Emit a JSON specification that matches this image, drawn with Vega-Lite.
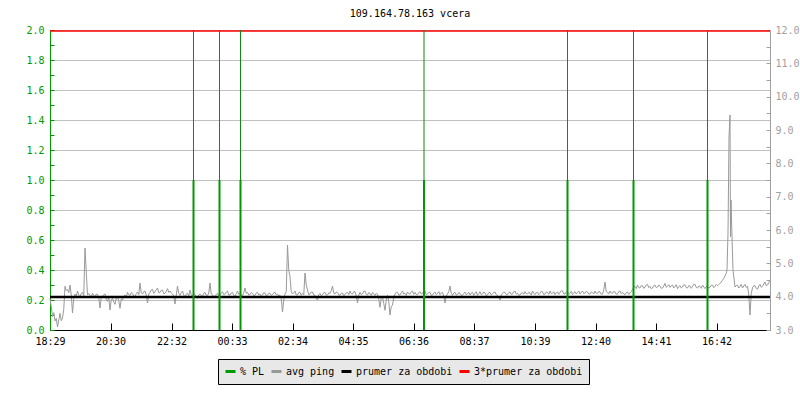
{
  "$schema": "https://vega.github.io/schema/vega-lite/v6.json",
  "width": 720,
  "height": 300,
  "autosize": {"type": "none"},
  "padding": {"left": 50, "top": 30, "right": 30, "bottom": 70},
  "background": "white",
  "title": {"text": "109.164.78.163 vcera", "font": "DejaVu Sans Mono", "fontSize": 10, "fontWeight": "normal", "color": "#000000", "anchor": "middle", "offset": 6},
  "config": {
    "view": {"stroke": null},
    "axis": {"labelFont": "DejaVu Sans Mono", "labelFontSize": 10, "labelOverlap": false, "labelFlush": false}
  },
  "datasets": {
    "ping": [
      {"t":0,"ping":3.95},{"t":2.5,"ping":3.70},{"t":5,"ping":3.41},{"t":7.5,"ping":3.52},{"t":10,"ping":3.27},{"t":12.5,"ping":3.35},{"t":15,"ping":3.09},{"t":17.5,"ping":3.30},{"t":20,"ping":3.50},{"t":22.5,"ping":3.28},
      {"t":25,"ping":3.36},{"t":27.5,"ping":3.62},{"t":30,"ping":4.31},{"t":32.5,"ping":4.18},{"t":35,"ping":4.22},{"t":37.5,"ping":4.12},{"t":40,"ping":4.35},{"t":42.5,"ping":4.05},{"t":45,"ping":3.51},{"t":47.5,"ping":3.95},
      {"t":50,"ping":4.08},{"t":52.5,"ping":4.02},{"t":55,"ping":4.17},{"t":57.5,"ping":4.05},{"t":60,"ping":3.99},{"t":62.5,"ping":4.10},{"t":65,"ping":4.13},{"t":67.5,"ping":4.03},{"t":70,"ping":5.46},{"t":72.5,"ping":4.74},
      {"t":75,"ping":4.05},{"t":77.5,"ping":4.10},{"t":80,"ping":4.04},{"t":82.5,"ping":3.98},{"t":85,"ping":4.10},{"t":87.5,"ping":4.04},{"t":90,"ping":3.97},{"t":92.5,"ping":4.08},{"t":95,"ping":4.06},{"t":97.5,"ping":3.95},
      {"t":100,"ping":3.66},{"t":102.5,"ping":3.98},{"t":105,"ping":4.01},{"t":107.5,"ping":4.06},{"t":110,"ping":4.08},{"t":112.5,"ping":3.92},{"t":115,"ping":3.86},{"t":117.5,"ping":3.99},{"t":120,"ping":3.60},{"t":122.5,"ping":3.90},
      {"t":125,"ping":3.95},{"t":127.5,"ping":3.84},{"t":130,"ping":3.77},{"t":132.5,"ping":3.96},{"t":135,"ping":3.99},{"t":137.5,"ping":3.88},{"t":140,"ping":3.65},{"t":142.5,"ping":3.93},{"t":145,"ping":3.90},{"t":147.5,"ping":4.02},
      {"t":150,"ping":4.05},{"t":152.5,"ping":3.98},{"t":155,"ping":4.13},{"t":157.5,"ping":4.06},{"t":160,"ping":4.04},{"t":162.5,"ping":4.12},{"t":165,"ping":4.10},{"t":167.5,"ping":4.01},{"t":170,"ping":4.01},{"t":172.5,"ping":4.09},
      {"t":175,"ping":4.14},{"t":177.5,"ping":4.06},{"t":180,"ping":4.41},{"t":182.5,"ping":4.12},{"t":185,"ping":4.08},{"t":187.5,"ping":4.15},{"t":190,"ping":4.17},{"t":192.5,"ping":4.05},{"t":195,"ping":3.81},{"t":197.5,"ping":4.08},
      {"t":200,"ping":4.13},{"t":202.5,"ping":4.20},{"t":205,"ping":4.22},{"t":207.5,"ping":4.10},{"t":210,"ping":4.15},{"t":212.5,"ping":4.21},{"t":215,"ping":4.26},{"t":217.5,"ping":4.12},{"t":220,"ping":4.13},{"t":222.5,"ping":4.19},
      {"t":225,"ping":4.20},{"t":227.5,"ping":4.09},{"t":230,"ping":4.10},{"t":232.5,"ping":4.16},{"t":235,"ping":4.24},{"t":237.5,"ping":4.13},{"t":240,"ping":4.17},{"t":242.5,"ping":4.11},{"t":245,"ping":4.08},{"t":247.5,"ping":4.02},
      {"t":250,"ping":3.78},{"t":252.5,"ping":4.05},{"t":255,"ping":4.32},{"t":257.5,"ping":4.10},{"t":260,"ping":4.04},{"t":262.5,"ping":4.12},{"t":265,"ping":4.17},{"t":267.5,"ping":4.05},{"t":270,"ping":3.97},{"t":272.5,"ping":4.08},
      {"t":275,"ping":4.10},{"t":277.5,"ping":4.02},{"t":280,"ping":4.20},{"t":282.5,"ping":4.06},{"t":285,"ping":4.01},{"t":287.5,"ping":4.09},{"t":290,"ping":4.06},{"t":292.5,"ping":4.00},{"t":295,"ping":3.95},{"t":297.5,"ping":4.05},
      {"t":300,"ping":4.08},{"t":302.5,"ping":4.03},{"t":305,"ping":4.01},{"t":307.5,"ping":4.10},{"t":310,"ping":4.13},{"t":312.5,"ping":4.04},{"t":315,"ping":4.04},{"t":317.5,"ping":4.11},{"t":320,"ping":4.41},{"t":322.5,"ping":4.08},
      {"t":325,"ping":4.06},{"t":327.5,"ping":4.00},{"t":330,"ping":3.99},{"t":332.5,"ping":4.07},{"t":335,"ping":4.10},{"t":337.5,"ping":4.02},{"t":340,"ping":4.04},{"t":342.5,"ping":4.12},{"t":345,"ping":4.15},{"t":347.5,"ping":4.06},
      {"t":350,"ping":4.08},{"t":352.5,"ping":4.14},{"t":355,"ping":4.17},{"t":357.5,"ping":4.05},{"t":360,"ping":4.05},{"t":362.5,"ping":4.11},{"t":365,"ping":4.13},{"t":367.5,"ping":4.04},{"t":370,"ping":4.01},{"t":372.5,"ping":4.09},
      {"t":375,"ping":4.17},{"t":377.5,"ping":4.07},{"t":380,"ping":4.10},{"t":382.5,"ping":4.03},{"t":385,"ping":4.04},{"t":387.5,"ping":4.12},{"t":390,"ping":4.26},{"t":392.5,"ping":4.10},{"t":395,"ping":4.13},{"t":397.5,"ping":4.05},
      {"t":400,"ping":4.06},{"t":402.5,"ping":4.12},{"t":405,"ping":4.10},{"t":407.5,"ping":4.03},{"t":410,"ping":4.04},{"t":412.5,"ping":4.11},{"t":415,"ping":4.13},{"t":417.5,"ping":4.05},{"t":420,"ping":4.08},{"t":422.5,"ping":4.02},
      {"t":425,"ping":4.05},{"t":427.5,"ping":4.12},{"t":430,"ping":4.11},{"t":432.5,"ping":4.03},{"t":435,"ping":4.04},{"t":437.5,"ping":4.10},{"t":440,"ping":4.10},{"t":442.5,"ping":4.04},{"t":445,"ping":4.06},{"t":447.5,"ping":4.12},
      {"t":450,"ping":4.13},{"t":452.5,"ping":4.05},{"t":455,"ping":4.08},{"t":457.5,"ping":4.02},{"t":460,"ping":4.04},{"t":462.5,"ping":3.95},{"t":465,"ping":3.54},{"t":467.5,"ping":3.90},{"t":470,"ping":4.08},{"t":472.5,"ping":4.15},
      {"t":475,"ping":5.55},{"t":477.5,"ping":4.80},{"t":480,"ping":4.60},{"t":482.5,"ping":4.15},{"t":485,"ping":4.08},{"t":487.5,"ping":4.12},{"t":490,"ping":4.17},{"t":492.5,"ping":4.05},{"t":495,"ping":4.05},{"t":497.5,"ping":4.12},
      {"t":500,"ping":4.13},{"t":502.5,"ping":4.04},{"t":505,"ping":4.10},{"t":507.5,"ping":4.06},{"t":510,"ping":4.71},{"t":512.5,"ping":4.35},{"t":515,"ping":4.20},{"t":517.5,"ping":4.06},{"t":520,"ping":4.08},{"t":522.5,"ping":4.14},
      {"t":525,"ping":4.14},{"t":527.5,"ping":4.05},{"t":530,"ping":4.04},{"t":532.5,"ping":3.95},{"t":535,"ping":3.90},{"t":537.5,"ping":4.06},{"t":540,"ping":4.10},{"t":542.5,"ping":4.03},{"t":545,"ping":4.06},{"t":547.5,"ping":4.12},
      {"t":550,"ping":4.13},{"t":552.5,"ping":4.05},{"t":555,"ping":4.05},{"t":557.5,"ping":4.11},{"t":560,"ping":4.10},{"t":562.5,"ping":4.18},{"t":565,"ping":4.32},{"t":567.5,"ping":4.10},{"t":570,"ping":4.08},{"t":572.5,"ping":4.14},
      {"t":575,"ping":4.13},{"t":577.5,"ping":4.05},{"t":580,"ping":4.04},{"t":582.5,"ping":4.10},{"t":585,"ping":4.11},{"t":587.5,"ping":4.03},{"t":590,"ping":4.06},{"t":592.5,"ping":4.12},{"t":595,"ping":4.13},{"t":597.5,"ping":4.06},
      {"t":600,"ping":4.17},{"t":602.5,"ping":4.09},{"t":605,"ping":4.08},{"t":607.5,"ping":4.15},{"t":610,"ping":4.15},{"t":612.5,"ping":4.02},{"t":615,"ping":3.81},{"t":617.5,"ping":4.05},{"t":620,"ping":4.13},{"t":622.5,"ping":4.06},
      {"t":625,"ping":4.08},{"t":627.5,"ping":4.16},{"t":630,"ping":4.17},{"t":632.5,"ping":4.07},{"t":635,"ping":4.05},{"t":637.5,"ping":4.12},{"t":640,"ping":4.10},{"t":642.5,"ping":4.04},{"t":645,"ping":4.13},{"t":647.5,"ping":4.08},
      {"t":650,"ping":4.04},{"t":652.5,"ping":4.10},{"t":655,"ping":4.08},{"t":657.5,"ping":3.92},{"t":660,"ping":3.68},{"t":662.5,"ping":3.95},{"t":665,"ping":3.99},{"t":667.5,"ping":3.80},{"t":670,"ping":3.59},{"t":672.5,"ping":3.90},
      {"t":675,"ping":4.04},{"t":677.5,"ping":3.85},{"t":680,"ping":3.45},{"t":682.5,"ping":3.70},{"t":685,"ping":3.75},{"t":687.5,"ping":3.98},{"t":690,"ping":4.08},{"t":692.5,"ping":4.13},{"t":695,"ping":4.13},{"t":697.5,"ping":4.05},
      {"t":700,"ping":4.05},{"t":702.5,"ping":4.12},{"t":705,"ping":4.17},{"t":707.5,"ping":4.08},{"t":710,"ping":4.10},{"t":712.5,"ping":4.04},{"t":715,"ping":4.14},{"t":717.5,"ping":4.09},{"t":720,"ping":4.08},{"t":722.5,"ping":4.15},
      {"t":725,"ping":4.17},{"t":727.5,"ping":4.07},{"t":730,"ping":4.13},{"t":732.5,"ping":4.06},{"t":735,"ping":4.06},{"t":737.5,"ping":4.12},{"t":740,"ping":4.15},{"t":742.5,"ping":4.08},{"t":745,"ping":4.10},{"t":747.5,"ping":4.16},
      {"t":750,"ping":4.17},{"t":752.5,"ping":4.06},{"t":755,"ping":4.08},{"t":757.5,"ping":4.13},{"t":760,"ping":4.13},{"t":762.5,"ping":4.04},{"t":765,"ping":4.05},{"t":767.5,"ping":4.11},{"t":770,"ping":4.14},{"t":772.5,"ping":4.06},
      {"t":775,"ping":4.10},{"t":777.5,"ping":4.15},{"t":780,"ping":4.06},{"t":782.5,"ping":4.11},{"t":785,"ping":4.13},{"t":787.5,"ping":4.02},{"t":790,"ping":3.81},{"t":792.5,"ping":4.02},{"t":795,"ping":4.08},{"t":797.5,"ping":4.15},
      {"t":800,"ping":4.32},{"t":802.5,"ping":4.10},{"t":805,"ping":4.04},{"t":807.5,"ping":4.11},{"t":810,"ping":4.13},{"t":812.5,"ping":4.05},{"t":815,"ping":4.06},{"t":817.5,"ping":4.12},{"t":820,"ping":4.10},{"t":822.5,"ping":4.03},
      {"t":825,"ping":4.04},{"t":827.5,"ping":4.10},{"t":830,"ping":4.14},{"t":832.5,"ping":4.06},{"t":835,"ping":4.08},{"t":837.5,"ping":4.13},{"t":840,"ping":4.05},{"t":842.5,"ping":4.11},{"t":845,"ping":4.13},{"t":847.5,"ping":4.04},
      {"t":850,"ping":4.10},{"t":852.5,"ping":4.15},{"t":855,"ping":4.04},{"t":857.5,"ping":4.09},{"t":860,"ping":4.15},{"t":862.5,"ping":4.06},{"t":865,"ping":4.08},{"t":867.5,"ping":4.14},{"t":870,"ping":4.11},{"t":872.5,"ping":4.03},
      {"t":875,"ping":4.05},{"t":877.5,"ping":4.12},{"t":880,"ping":4.13},{"t":882.5,"ping":4.05},{"t":885,"ping":4.08},{"t":887.5,"ping":4.13},{"t":890,"ping":4.14},{"t":892.5,"ping":4.06},{"t":895,"ping":4.04},{"t":897.5,"ping":3.98},
      {"t":900,"ping":3.90},{"t":902.5,"ping":4.05},{"t":905,"ping":4.10},{"t":907.5,"ping":4.14},{"t":910,"ping":4.13},{"t":912.5,"ping":4.06},{"t":915,"ping":4.06},{"t":917.5,"ping":4.12},{"t":920,"ping":4.14},{"t":922.5,"ping":4.07},
      {"t":925,"ping":4.08},{"t":927.5,"ping":4.15},{"t":930,"ping":4.17},{"t":932.5,"ping":4.08},{"t":935,"ping":4.10},{"t":937.5,"ping":4.04},{"t":940,"ping":4.05},{"t":942.5,"ping":4.11},{"t":945,"ping":4.13},{"t":947.5,"ping":4.07},
      {"t":950,"ping":4.15},{"t":952.5,"ping":4.09},{"t":955,"ping":4.08},{"t":957.5,"ping":4.13},{"t":960,"ping":4.11},{"t":962.5,"ping":4.05},{"t":965,"ping":4.17},{"t":967.5,"ping":4.10},{"t":970,"ping":4.06},{"t":972.5,"ping":4.12},
      {"t":975,"ping":4.13},{"t":977.5,"ping":4.06},{"t":980,"ping":4.10},{"t":982.5,"ping":4.16},{"t":985,"ping":4.15},{"t":987.5,"ping":4.06},{"t":990,"ping":4.08},{"t":992.5,"ping":4.14},{"t":995,"ping":4.13},{"t":997.5,"ping":4.07},
      {"t":1000,"ping":4.17},{"t":1002.5,"ping":4.09},{"t":1005,"ping":4.10},{"t":1007.5,"ping":4.15},{"t":1010,"ping":4.06},{"t":1012.5,"ping":4.12},{"t":1015,"ping":4.14},{"t":1017.5,"ping":4.07},{"t":1020,"ping":4.13},{"t":1022.5,"ping":4.18},
      {"t":1025,"ping":4.17},{"t":1027.5,"ping":4.08},{"t":1030,"ping":4.08},{"t":1032.5,"ping":4.14},{"t":1035,"ping":4.14},{"t":1037.5,"ping":4.07},{"t":1040,"ping":4.10},{"t":1042.5,"ping":4.16},{"t":1045,"ping":4.06},{"t":1047.5,"ping":4.12},
      {"t":1050,"ping":4.15},{"t":1052.5,"ping":4.08},{"t":1055,"ping":4.13},{"t":1057.5,"ping":4.17},{"t":1060,"ping":4.08},{"t":1062.5,"ping":4.13},{"t":1065,"ping":4.17},{"t":1067.5,"ping":4.09},{"t":1070,"ping":4.11},{"t":1072.5,"ping":4.16},
      {"t":1075,"ping":4.14},{"t":1077.5,"ping":4.08},{"t":1080,"ping":4.08},{"t":1082.5,"ping":4.14},{"t":1085,"ping":4.13},{"t":1087.5,"ping":4.08},{"t":1090,"ping":4.17},{"t":1092.5,"ping":4.10},{"t":1095,"ping":4.10},{"t":1097.5,"ping":4.16},
      {"t":1100,"ping":4.14},{"t":1102.5,"ping":4.07},{"t":1105,"ping":4.08},{"t":1107.5,"ping":4.20},{"t":1110,"ping":4.44},{"t":1112.5,"ping":4.15},{"t":1115,"ping":4.13},{"t":1117.5,"ping":4.08},{"t":1120,"ping":4.17},{"t":1122.5,"ping":4.11},
      {"t":1125,"ping":4.10},{"t":1127.5,"ping":4.16},{"t":1130,"ping":4.14},{"t":1132.5,"ping":4.07},{"t":1135,"ping":4.08},{"t":1137.5,"ping":4.15},{"t":1140,"ping":4.17},{"t":1142.5,"ping":4.09},{"t":1145,"ping":4.13},{"t":1147.5,"ping":4.08},
      {"t":1150,"ping":4.06},{"t":1152.5,"ping":4.12},{"t":1155,"ping":4.14},{"t":1157.5,"ping":4.07},{"t":1160,"ping":4.10},{"t":1162.5,"ping":4.15},{"t":1165,"ping":4.22},{"t":1167.5,"ping":4.28},{"t":1170,"ping":4.31},{"t":1172.5,"ping":4.24},
      {"t":1175,"ping":4.35},{"t":1177.5,"ping":4.27},{"t":1180,"ping":4.26},{"t":1182.5,"ping":4.33},{"t":1185,"ping":4.33},{"t":1187.5,"ping":4.25},{"t":1190,"ping":4.29},{"t":1192.5,"ping":4.35},{"t":1195,"ping":4.37},{"t":1197.5,"ping":4.27},
      {"t":1200,"ping":4.31},{"t":1202.5,"ping":4.24},{"t":1205,"ping":4.26},{"t":1207.5,"ping":4.33},{"t":1210,"ping":4.35},{"t":1212.5,"ping":4.27},{"t":1215,"ping":4.29},{"t":1217.5,"ping":4.35},{"t":1220,"ping":4.32},{"t":1222.5,"ping":4.25},
      {"t":1225,"ping":4.26},{"t":1227.5,"ping":4.32},{"t":1230,"ping":4.40},{"t":1232.5,"ping":4.28},{"t":1235,"ping":4.31},{"t":1237.5,"ping":4.36},{"t":1240,"ping":4.28},{"t":1242.5,"ping":4.33},{"t":1245,"ping":4.35},{"t":1247.5,"ping":4.26},
      {"t":1250,"ping":4.31},{"t":1252.5,"ping":4.36},{"t":1255,"ping":4.24},{"t":1257.5,"ping":4.30},{"t":1260,"ping":4.33},{"t":1262.5,"ping":4.26},{"t":1265,"ping":4.29},{"t":1267.5,"ping":4.36},{"t":1270,"ping":4.35},{"t":1272.5,"ping":4.27},
      {"t":1275,"ping":4.26},{"t":1277.5,"ping":4.33},{"t":1280,"ping":4.32},{"t":1282.5,"ping":4.25},{"t":1285,"ping":4.31},{"t":1287.5,"ping":4.37},{"t":1290,"ping":4.37},{"t":1292.5,"ping":4.28},{"t":1295,"ping":4.26},{"t":1297.5,"ping":4.32},
      {"t":1300,"ping":4.31},{"t":1302.5,"ping":4.25},{"t":1305,"ping":4.35},{"t":1307.5,"ping":4.29},{"t":1310,"ping":4.24},{"t":1312.5,"ping":4.31},{"t":1315,"ping":4.31},{"t":1317.5,"ping":4.26},{"t":1320,"ping":4.28},{"t":1322.5,"ping":4.34},
      {"t":1325,"ping":4.35},{"t":1327.5,"ping":4.27},{"t":1330,"ping":4.31},{"t":1332.5,"ping":4.37},{"t":1335,"ping":4.33},{"t":1337.5,"ping":4.36},{"t":1340,"ping":4.40},{"t":1342.5,"ping":4.44},{"t":1345,"ping":4.49},{"t":1347.5,"ping":4.55},
      {"t":1350,"ping":4.62},{"t":1352.5,"ping":4.70},{"t":1354,"ping":4.80},{"t":1356,"ping":5.91},{"t":1358,"ping":8.79},{"t":1360,"ping":9.45},{"t":1361,"ping":5.80},{"t":1362,"ping":6.90},{"t":1364,"ping":5.79},{"t":1366,"ping":4.80},
      {"t":1368,"ping":4.55},{"t":1370,"ping":4.29},{"t":1372.5,"ping":4.33},{"t":1375,"ping":4.35},{"t":1377.5,"ping":4.26},{"t":1380,"ping":4.31},{"t":1382.5,"ping":4.37},{"t":1385,"ping":4.26},{"t":1387.5,"ping":4.32},{"t":1390,"ping":4.37},
      {"t":1392.5,"ping":4.28},{"t":1395,"ping":4.31},{"t":1397.5,"ping":4.05},{"t":1400,"ping":3.45},{"t":1402.5,"ping":4.10},{"t":1405,"ping":4.26},{"t":1407.5,"ping":4.33},{"t":1410,"ping":4.33},{"t":1412.5,"ping":4.25},{"t":1415,"ping":4.22},
      {"t":1417.5,"ping":4.32},{"t":1420,"ping":4.37},{"t":1422.5,"ping":4.28},{"t":1425,"ping":4.31},{"t":1427.5,"ping":4.38},{"t":1430,"ping":4.44},{"t":1432.5,"ping":4.33},{"t":1435,"ping":4.35},{"t":1437.5,"ping":4.42},{"t":1440,"ping":4.50}
    ],
    "pl": [
      {"t":287,"pl":1.0},{"t":339,"pl":1.0},{"t":381,"pl":1.0},{"t":748,"pl":1.0},{"t":1035,"pl":1.0},{"t":1167,"pl":1.0},{"t":1315,"pl":1.0}
    ],
    "means": [
      {"series":"prumer za obdobi","value":3.99},
      {"series":"3*prumer za obdobi","value":11.97}
    ]
  },
  "resolve": {"scale": {"y": "independent"}},
  "layer": [
    {
      "layer": [
        {
          "data": {"name": "ping"},
          "mark": {"type": "line", "interpolate": "linear", "strokeWidth": 1},
          "encoding": {
            "x": {"field": "t", "type": "quantitative", "scale": {"domain": [0, 1440], "nice": false, "zero": false},
              "axis": {"values": [0,121,243,364,485,606,727,848,970,1091,1212,1333], "labelExpr": "format(floor(((datum.value+1109)%1440)/60),'02d') + ':' + format((datum.value+1109)%60,'02d')", "title": null, "grid": false, "domainColor": "#000000", "tickColor": "#000000", "tickSize": -7, "labelColor": "#000000", "labelPadding": 13, "labelFlush": false, "labelOverlap": false}},
            "y": {"field": "ping", "type": "quantitative", "scale": {"domain": [3, 12], "nice": false, "zero": false, "clamp": true},
              "axis": {"orient": "right", "values": [3,3.5,4,4.5,5,5.5,6,6.5,7,7.5,8,8.5,9,9.5,10,10.5,11,11.5,12], "labelExpr": "datum.value % 1 == 0 ? format(datum.value, '.1f') : ''", "title": null, "grid": false, "domainColor": "#a0a0a0", "tickColor": "#a0a0a0", "tickSize": -4, "labelColor": "#a0a0a0", "labelPadding": 9, "labelFlush": false, "labelOverlap": false}},
            "color": {"datum": "avg ping", "type": "nominal", "title": null,
              "scale": {"domain": ["% PL", "avg ping", "prumer za obdobi", "3*prumer za obdobi"], "range": ["#009900", "#999999", "#000000", "#ff0000"]},
              "legend": {"orient": "none", "legendX": 168, "legendY": 329, "direction": "horizontal", "gridAlign": "none", "title": null, "fillColor": "#e8e8e8", "strokeColor": "#000000", "padding": 6, "symbolType": "stroke", "symbolSize": 100, "symbolStrokeWidth": 3, "labelFont": "DejaVu Sans Mono", "labelFontSize": 10, "labelColor": "#000000", "labelOffset": 3, "columnPadding": 0, "labelLimit": 300}}
          }
        },
        {
          "data": {"name": "means"},
          "mark": {"type": "rule"},
          "encoding": {
            "y": {"field": "value", "type": "quantitative", "scale": {"domain": [3, 12], "nice": false, "zero": false, "clamp": true},
              "axis": {"orient": "right", "values": [3,3.5,4,4.5,5,5.5,6,6.5,7,7.5,8,8.5,9,9.5,10,10.5,11,11.5,12], "labelExpr": "datum.value % 1 == 0 ? format(datum.value, '.1f') : ''", "title": null, "grid": false, "domainColor": "#a0a0a0", "tickColor": "#a0a0a0", "tickSize": -4, "labelColor": "#a0a0a0", "labelPadding": 9, "labelFlush": false, "labelOverlap": false}},
            "color": {"field": "series", "type": "nominal", "title": null,
              "legend": {"orient": "none", "legendX": 168, "legendY": 329, "direction": "horizontal", "gridAlign": "none", "title": null, "fillColor": "#e8e8e8", "strokeColor": "#000000", "padding": 6, "symbolType": "stroke", "symbolSize": 100, "symbolStrokeWidth": 3, "labelFont": "DejaVu Sans Mono", "labelFontSize": 10, "labelColor": "#000000", "labelOffset": 3, "columnPadding": 0, "labelLimit": 300}},
            "strokeWidth": {"condition": {"test": "datum.series == 'prumer za obdobi'", "value": 2.5}, "value": 1.5}
          }
        }
      ]
    },
    {
      "layer": [
        {
          "data": {"name": "pl"},
          "mark": {"type": "rule", "strokeWidth": 2},
          "encoding": {
            "x": {"field": "t", "type": "quantitative", "scale": {"domain": [0, 1440], "nice": false, "zero": false},
              "axis": {"values": [0,121,243,364,485,606,727,848,970,1091,1212,1333], "labelExpr": "format(floor(((datum.value+1109)%1440)/60),'02d') + ':' + format((datum.value+1109)%60,'02d')", "title": null, "grid": false, "domainColor": "#000000", "tickColor": "#000000", "tickSize": -7, "labelColor": "#000000", "labelPadding": 13, "labelFlush": false, "labelOverlap": false}},
            "y": {"field": "pl", "type": "quantitative", "scale": {"domain": [0, 2], "nice": false, "zero": false},
              "axis": {"orient": "left", "values": [0,0.1,0.2,0.3,0.4,0.5,0.6,0.7,0.8,0.9,1,1.1,1.2,1.3,1.4,1.5,1.6,1.7,1.8,1.9,2], "labelExpr": "round(datum.value*10) % 2 == 0 ? format(datum.value, '.1f') : ''", "title": null, "grid": true, "gridColor": "#c0c0c0", "gridOpacity": {"condition": {"test": "round(datum.value*10) % 2 == 0", "value": 1}, "value": 0}, "domainColor": "#009900", "tickColor": "#009900", "tickSize": -4, "labelColor": "#009900", "labelPadding": 10, "labelFlush": false, "labelOverlap": false}},
            "y2": {"datum": 0},
            "color": {"datum": "% PL", "type": "nominal", "title": null,
              "legend": {"orient": "none", "legendX": 168, "legendY": 329, "direction": "horizontal", "gridAlign": "none", "title": null, "fillColor": "#e8e8e8", "strokeColor": "#000000", "padding": 6, "symbolType": "stroke", "symbolSize": 100, "symbolStrokeWidth": 3, "labelFont": "DejaVu Sans Mono", "labelFontSize": 10, "labelColor": "#000000", "labelOffset": 3, "columnPadding": 0, "labelLimit": 300}}
          }
        },
        {
          "data": {"name": "pl"},
          "mark": {"type": "rule", "strokeWidth": 1, "color": "#118811"},
          "encoding": {
            "x": {"field": "t", "type": "quantitative", "scale": {"domain": [0, 1440], "nice": false, "zero": false},
              "axis": {"values": [0,121,243,364,485,606,727,848,970,1091,1212,1333], "labelExpr": "format(floor(((datum.value+1109)%1440)/60),'02d') + ':' + format((datum.value+1109)%60,'02d')", "title": null, "grid": false, "domainColor": "#000000", "tickColor": "#000000", "tickSize": -7, "labelColor": "#000000", "labelPadding": 13, "labelFlush": false, "labelOverlap": false}},
            "y": {"field": "pl", "type": "quantitative", "scale": {"domain": [0, 2], "nice": false, "zero": false},
              "axis": {"orient": "left", "values": [0,0.1,0.2,0.3,0.4,0.5,0.6,0.7,0.8,0.9,1,1.1,1.2,1.3,1.4,1.5,1.6,1.7,1.8,1.9,2], "labelExpr": "round(datum.value*10) % 2 == 0 ? format(datum.value, '.1f') : ''", "title": null, "grid": true, "gridColor": "#c0c0c0", "gridOpacity": {"condition": {"test": "round(datum.value*10) % 2 == 0", "value": 1}, "value": 0}, "domainColor": "#009900", "tickColor": "#009900", "tickSize": -4, "labelColor": "#009900", "labelPadding": 10, "labelFlush": false, "labelOverlap": false}},
            "y2": {"datum": 2}
          }
        }
      ]
    }
  ]
}
